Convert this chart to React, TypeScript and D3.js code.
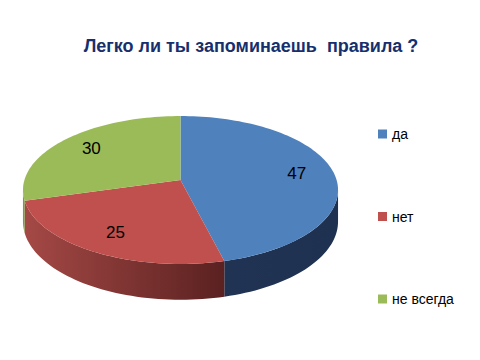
import React from "react";
import * as d3 from "d3";

const title = "Легко ли ты запоминаешь  правила ?";
const categories = ["да", "нет", "не всегда"];
const values = [47, 25, 30];
const topColors = ["#4F81BD", "#C0504D", "#9BBB59"];
const sideLight = ["#22375A", "#A54946", "#7E9A45"];
const sideDark = ["#1F3150", "#5A2120", "#5C7232"];

const W = 480;
const H = 360;

// perspective pie geometry
const cx = 180.5;
const cy = 180;
const k = 0.135;
const A = 156.1;
const B = 72.6;
const D = 31;

function project(theta: number, r: number, drop: number): [number, number] {
  const u = r * Math.sin(theta);
  const v = r * Math.cos(theta);
  const w = 1 + k * v;
  return [cx + (A * u) / w, cy - (B * v) / w + (drop * D) / w];
}

export default function App() {
  const pie = d3.pie<number>().sort(null).startAngle(0).endAngle(2 * Math.PI);
  const arcs = pie(values);
  const line = d3.line<[number, number]>();
  const thL = Math.acos(-k);
  const thR = 2 * Math.PI - thL;

  const sample = (a0: number, a1: number, drop: number) => {
    const n = Math.max(2, Math.ceil(((a1 - a0) / (2 * Math.PI)) * 200));
    const pts: [number, number][] = [];
    for (let i = 0; i <= n; i++) pts.push(project(a0 + ((a1 - a0) * i) / n, 1, drop));
    return pts;
  };

  const legendY = d3.scalePoint<string>().domain(categories).range([134, 299]);

  return (
    <svg width={W} height={H} style={{ display: "block", position: "absolute", left: 0, top: 0 }}>
      <defs>
        {arcs.map((a, i) => (
          <linearGradient key={i} id={`side${i}`} gradientUnits="userSpaceOnUse" x1={23} x2={338} y1={0} y2={0}>
            <stop offset="0" stopColor={sideLight[i]} />
            <stop offset={i === 1 ? "0.64" : "1"} stopColor={sideDark[i]} />
          </linearGradient>
        ))}
      </defs>
      <rect width={W} height={H} fill="#fff" />
      <text
        x={251}
        y={52}
        textAnchor="middle"
        fontFamily="'Liberation Sans', Arial, sans-serif"
        fontWeight="bold"
        fontSize={18}
        fill="#172F6C"
        style={{ whiteSpace: "pre" }}
      >
        {title}
      </text>
      {arcs.map((a, i) => {
        const s0 = Math.max(a.startAngle, thL);
        const s1 = Math.min(a.endAngle, thR);
        if (s1 <= s0) return null;
        const top = sample(s0, s1, 0);
        const bot = sample(s0, s1, 1).reverse();
        return <path key={`s${i}`} d={line([...top, ...bot])! + "Z"} fill={`url(#side${i})`} />;
      })}
      {arcs.map((a, i) => {
        const pts: [number, number][] = [project(0, 0, 0), ...sample(a.startAngle, a.endAngle, 0)];
        return <path key={`t${i}`} d={line(pts)! + "Z"} fill={topColors[i]} />;
      })}
      {arcs.map((a, i) => {
        const mid = (a.startAngle + a.endAngle) / 2;
        const [x, y] = project(mid, 0.76, 0);
        return (
          <text
            key={`l${i}`}
            x={x}
            y={y}
            textAnchor="middle"
            dominantBaseline="central"
            fontFamily="'Liberation Sans', Arial, sans-serif"
            fontSize={17}
            fill="#000"
          >
            {values[i]}
          </text>
        );
      })}
      {categories.map((c, i) => (
        <g key={c} transform={`translate(378,${legendY(c)})`}>
          <rect x={0} y={-4.5} width={9} height={9} fill={topColors[i]} />
          <text x={14} y={5} fontFamily="'Liberation Sans', Arial, sans-serif" fontSize={14} fill="#000">
            {c}
          </text>
        </g>
      ))}
    </svg>
  );
}
